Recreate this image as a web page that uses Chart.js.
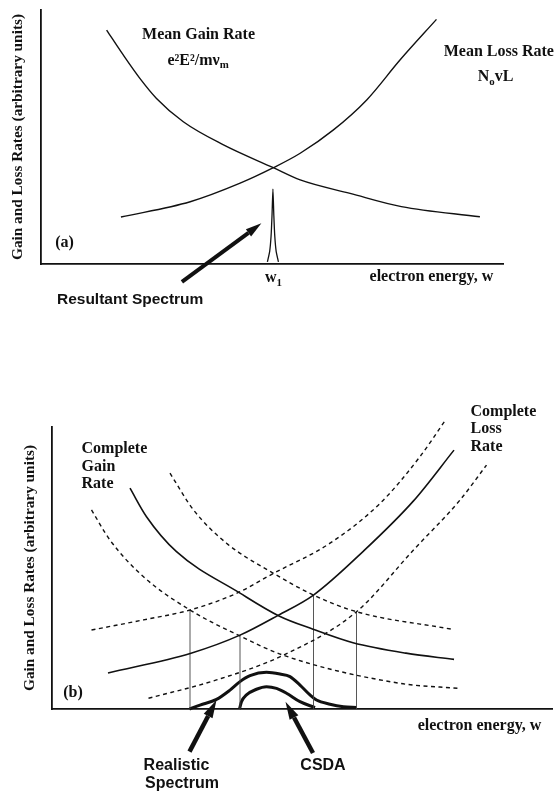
<!DOCTYPE html>
<html>
<head>
<meta charset="utf-8">
<script src="https://cdn.jsdelivr.net/npm/chart.js@4.4.1/dist/chart.umd.min.js"></script>
<style>
  html, body { margin: 0; padding: 0; background: #fff; }
  #wrap { position: relative; width: 555px; height: 791px; }
  .panel { position: absolute; left: 0; width: 555px; }
  #panel-a { top: 0; height: 340px; }
  #panel-b { top: 340px; height: 451px; }
</style>
</head>
<body>
<div id="wrap">
  <div class="panel" id="panel-a"><canvas id="chart-a"></canvas></div>
  <div class="panel" id="panel-b"><canvas id="chart-b"></canvas></div>
</div>
<script>
// (a) mean gain / loss rates and the sharp resultant spectrum
const meanGainX = [14.2, 17.8, 21.4, 25.0, 30.8, 39.5, 50.3, 56.1, 66.9, 78.0, 95.0];
const meanGainY = [92.1, 82.3, 73.1, 65.2, 56.0, 46.9, 37.9, 33.1, 27.8, 22.6, 18.6];
const meanLossX = [17.3, 32.3, 43.1, 50.3, 56.1, 63.3, 70.5, 77.7, 85.6];
const meanLossY = [18.5, 24.5, 31.8, 37.9, 43.6, 52.8, 64.6, 80.3, 96.3];
const spikeX = [49.0, 49.5, 49.8, 50.0, 50.2, 50.4, 50.6, 50.9, 51.4];
const spikeY = [0.8, 5, 11, 19, 29.5, 19, 11, 5, 0.8];

// (b) complete rates, their spread (dashed), and the two spectra
const gainX = [15.6, 18.9, 24.9, 37.6, 45.4, 52.2, 60.2, 70.8, 80.4];
const gainY = [78.3, 68.2, 55.8, 41.1, 33.0, 28.3, 23.5, 19.8, 17.6];
const lossX = [11.2, 27.8, 37.6, 45.3, 52.3, 62.3, 72.3, 80.4];
const lossY = [12.8, 19.8, 26.2, 33.3, 40.4, 56.0, 73.8, 91.8];
const gainHighX = [23.6, 28.3, 34.9, 44.3, 52.3, 60.9, 79.9];
const gainHighY = [83.6, 70.6, 58.8, 48.1, 40.4, 34.5, 28.3];
const gainLowX = [7.9, 11.6, 18.3, 27.6, 37.6, 46.2, 69.6, 81.5];
const gainLowY = [70.6, 59.9, 46.9, 35.1, 25.9, 19.1, 9.1, 7.3];
const lossHighX = [7.9, 18.3, 27.6, 36.9, 44.3, 55.6, 65.6, 73.6, 78.6];
const lossHighY = [28.0, 31.6, 35.1, 41.0, 48.1, 58.8, 72.9, 89.5, 102.2];
const lossLowX = [19.3, 32.9, 46.3, 60.9, 72.3, 81.6, 86.9];
const lossLowY = [3.8, 10.3, 19.1, 34.5, 56.4, 74.1, 86.5];
const dropX = [27.6, 37.6, 52.3, 60.9];
const dropY = [35.1, 26.2, 40.4, 34.5];
const realisticX = [27.5, 29.6, 32.9, 35.6, 37.6, 39.6, 42.9, 45.6, 47.6, 49.6, 51.6, 52.9, 55.6, 58.3, 60.9];
const realisticY = [0, 1.4, 3.4, 6.7, 9.7, 11.8, 13.0, 12.4, 11.5, 8.5, 5.0, 3.2, 1.7, 0.8, 0.5];
const csdaX = [37.5, 37.9, 38.9, 40.9, 42.9, 44.9, 46.9, 49.6, 52.6];
const csdaY = [0, 2.6, 5.0, 7.0, 7.9, 7.3, 5.6, 2.6, 0.5];

const SERIF = '"Liberation Serif", "Times New Roman", serif';
const SANS = '"Liberation Sans", Arial, sans-serif';
const INK = '#111';
const Y_TITLE = 'Gain and Loss Rates (arbitrary units)';

const pts = (xs, ys) => xs.map((x, i) => ({ x, y: ys[i] }));

function curve(xs, ys, extra) {
    return Object.assign({
        data: pts(xs, ys),
        borderColor: INK,
        borderWidth: 1.4,
        pointRadius: 0,
        cubicInterpolationMode: 'monotone',
        fill: false,
        clip: false,
    }, extra);
}

function drawArrow(ctx, x0, y0, x1, y1, w) {
    const ang = Math.atan2(y1 - y0, x1 - x0);
    const head = w * 4;
    const half = w * 1.1;
    const bx = x1 - Math.cos(ang) * head;
    const by = y1 - Math.sin(ang) * head;
    ctx.lineWidth = w;
    ctx.lineCap = 'butt';
    ctx.beginPath();
    ctx.moveTo(x0, y0);
    ctx.lineTo(bx, by);
    ctx.stroke();
    ctx.beginPath();
    ctx.moveTo(x1, y1);
    ctx.lineTo(bx + Math.sin(ang) * half, by - Math.cos(ang) * half);
    ctx.lineTo(bx - Math.sin(ang) * half, by + Math.cos(ang) * half);
    ctx.closePath();
    ctx.fill();
}

// text made of runs; a run flagged true is set as a subscript
function drawText(ctx, px, py, t) {
    const size = t.size || 16;
    const family = t.family || SERIF;
    const fontFor = (sub) => `bold ${sub ? size * 0.68 : size}px ${family}`;
    const widths = t.parts.map(([s, sub]) => { ctx.font = fontFor(sub); return ctx.measureText(s).width; });
    const total = widths.reduce((a, b) => a + b, 0);
    let cx = t.align === 'left' ? px : px - total / 2;
    ctx.textBaseline = 'middle';
    ctx.textAlign = 'left';
    t.parts.forEach(([s, sub], i) => {
        ctx.font = fontFor(sub);
        ctx.fillText(s, cx, py + (sub ? size * 0.3 : 0));
        cx += widths[i];
    });
}

const notes = {
    id: 'notes',
    afterDatasetsDraw(chart, args, opts) {
        const { ctx, scales: { x, y } } = chart;
        ctx.save();
        ctx.fillStyle = INK;
        ctx.strokeStyle = INK;
        (opts.arrows || []).forEach((a) => drawArrow(ctx,
            x.getPixelForValue(a.from[0]), y.getPixelForValue(a.from[1]),
            x.getPixelForValue(a.to[0]), y.getPixelForValue(a.to[1]), a.width));
        (opts.texts || []).forEach((t) => drawText(ctx, x.getPixelForValue(t.at[0]), y.getPixelForValue(t.at[1]), t));
        ctx.restore();
    },
};

function axes(yWidth, xHeight, titlePad) {
    const border = { color: INK, width: 1.8 };
    return {
        x: {
            type: 'linear', min: 0, max: 100,
            grid: { display: false }, border, ticks: { display: false },
            afterFit: (s) => { s.height = xHeight; },
        },
        y: {
            type: 'linear', min: 0, max: 100,
            grid: { display: false }, border, ticks: { display: false },
            title: {
                display: true, text: Y_TITLE, color: INK,
                font: { family: SERIF, size: 15.3, weight: 'bold' },
                padding: { top: titlePad, bottom: 0 },
            },
            afterFit: (s) => { s.width = yWidth; },
        },
    };
}

function renderMean() {
    new Chart(document.getElementById('chart-a'), {
        type: 'line',
        data: {
            datasets: [
                curve(meanGainX, meanGainY),
                curve(meanLossX, meanLossY),
                curve(spikeX, spikeY, { cubicInterpolationMode: 'default', tension: 0.2, borderWidth: 1.3 }),
            ],
        },
        options: {
            responsive: true,
            maintainAspectRatio: false,
            animation: false,
            events: [],
            layout: { padding: { top: 10, right: 52, left: 0, bottom: 0 } },
            scales: axes(41, 76, 9),
            plugins: {
                legend: { display: false },
                tooltip: { enabled: false },
                notes: {
                    arrows: [{ from: [30.5, -7.0], to: [47.7, 16.0], width: 4 }],
                    texts: [
                        { at: [34.1, 90.2], parts: [['Mean Gain Rate']] },
                        { at: [34.0, 80.1], parts: [['e²E²/mν'], ['m', true]] },
                        { at: [99.1, 83.6], parts: [['Mean Loss Rate']] },
                        { at: [98.4, 73.5], parts: [['N'], ['o', true], ['vL']] },
                        { at: [5.1, 8.4], parts: [['(a)']] },
                        { at: [50.3, -5.5], parts: [['w'], ['1', true]] },
                        { at: [84.5, -5.2], parts: [['electron energy, w']] },
                        { at: [19.3, -14.2], parts: [['Resultant Spectrum']], family: SANS, size: 15.5 },
                    ],
                },
            },
        },
        plugins: [notes],
    });
}

function renderComplete() {
    const dashed = { borderDash: [4, 3.5], borderWidth: 1.4 };
    const drops = dropX.flatMap((x, i) => [{ x, y: 0 }, { x, y: dropY[i] }, { x, y: null }]);
    new Chart(document.getElementById('chart-b'), {
        type: 'line',
        data: {
            datasets: [
                curve(gainX, gainY, { borderWidth: 1.6 }),
                curve(lossX, lossY, { borderWidth: 1.6 }),
                curve(gainHighX, gainHighY, dashed),
                curve(gainLowX, gainLowY, dashed),
                curve(lossHighX, lossHighY, dashed),
                curve(lossLowX, lossLowY, dashed),
                {
                    data: drops, borderColor: '#444', borderWidth: 0.9,
                    pointRadius: 0, spanGaps: false, tension: 0,
                },
                curve(realisticX, realisticY, { borderWidth: 3 }),
                curve(csdaX, csdaY, { borderWidth: 3 }),
            ],
        },
        options: {
            responsive: true,
            maintainAspectRatio: false,
            animation: false,
            events: [],
            layout: { padding: { top: 87, right: 3, left: 0, bottom: 0 } },
            scales: axes(52, 82, 21),
            plugins: {
                legend: { display: false },
                tooltip: { enabled: false },
                notes: {
                    arrows: [
                        { from: [27.5, -15.1], to: [32.9, 3.2], width: 4.5 },
                        { from: [52.2, -15.6], to: [46.7, 2.6], width: 4.5 },
                    ],
                    texts: [
                        { at: [5.9, 92.1], parts: [['Complete']], align: 'left' },
                        { at: [5.9, 85.9], parts: [['Gain']], align: 'left' },
                        { at: [5.9, 79.8], parts: [['Rate']], align: 'left' },
                        { at: [83.7, 105.4], parts: [['Complete']], align: 'left' },
                        { at: [83.7, 99.2], parts: [['Loss']], align: 'left' },
                        { at: [83.7, 93.0], parts: [['Rate']], align: 'left' },
                        { at: [4.2, 5.6], parts: [['(b)']] },
                        { at: [85.5, -6.0], parts: [['electron energy, w']] },
                        { at: [24.9, -20.2], parts: [['Realistic']], family: SANS },
                        { at: [26.0, -26.3], parts: [['Spectrum']], family: SANS },
                        { at: [54.2, -20.2], parts: [['CSDA']], family: SANS },
                    ],
                },
            },
        },
        plugins: [notes],
    });
}

renderMean();
renderComplete();
</script>
</body>
</html>
